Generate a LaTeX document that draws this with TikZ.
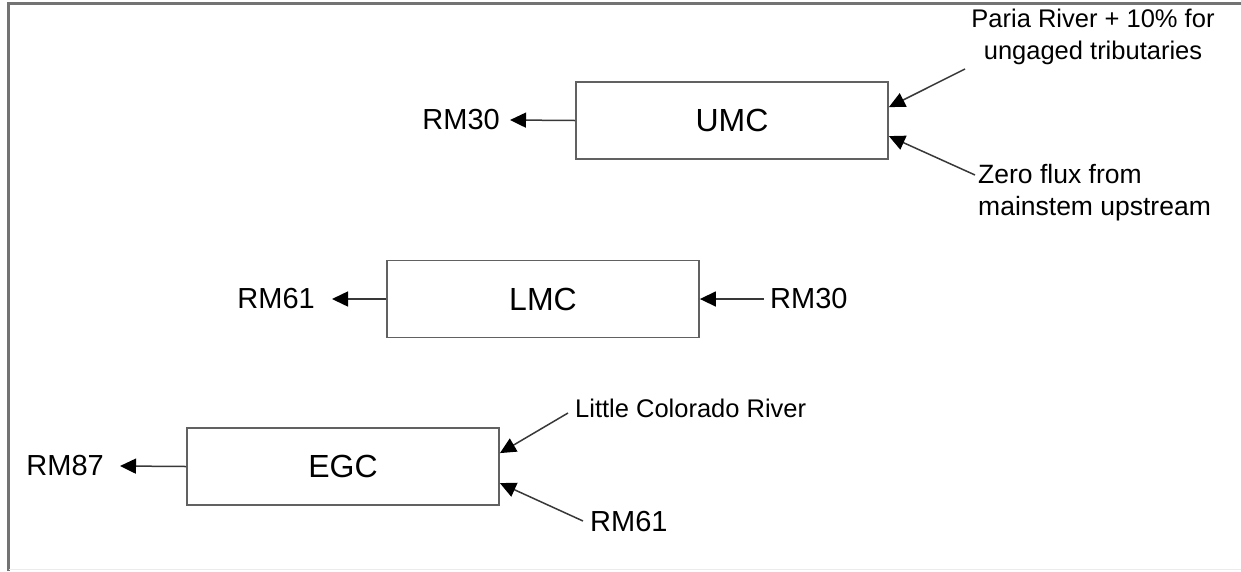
\documentclass[tikz,border=0pt]{standalone}
\usepackage{fontspec}
\setmainfont{Liberation Sans}
\usetikzlibrary{arrows.meta,calc}
\begin{document}
\begin{tikzpicture}[x=1pt,y=-1pt,
  box/.style={draw=black!62,line width=1.8pt,minimum width=312pt,minimum height=77pt,inner sep=0pt,font=\fontsize{32}{38}\selectfont},
  lbl/.style={font=\fontsize{25.5}{32}\selectfont,inner sep=0pt},
  rm/.style={font=\fontsize{29}{34}\selectfont,inner sep=0pt},
  arr/.style={draw=black!78,line width=1.5pt,-{Triangle[length=16pt,width=15pt,color=black]}},
]
\useasboundingbox (0,0) rectangle (1241,571);
\draw[black!55,line width=3pt] (1241,3) -- (8,3) -- (8,571);
\draw[black!8,line width=1.5pt] (9,569.5) -- (1241,569.5);

\node[box] (umc) at (732,120.5) {UMC};
\node[box] (lmc) at (543,299) {LMC};
\node[box] (egc) at (343,466.5) {EGC};

\node[rm,anchor=east] (rm30a) at (500,120) {RM30};
\node[lbl,align=center] (paria) at (1093,37) {Paria River + 10\% for\\ungaged tributaries};
\node[lbl,font=\fontsize{26.5}{32}\selectfont,align=left,anchor=west] (zero) at (978,193) {Zero flux from\\mainstem upstream};
\node[rm,anchor=east] (rm61a) at (315,299) {RM61};
\node[rm,anchor=west] (rm30b) at (770,299) {RM30};
\node[rm,anchor=east] (rm87) at (104,466) {RM87};
\node[lbl,anchor=west] (lcr) at (575,408) {Little Colorado River};
\node[rm,anchor=west] (rm61b) at (590,522) {RM61};

\coordinate (pa) at (965,69);
\coordinate (ze) at (975,175);
\coordinate (lc) at (568,413);
\coordinate (rb) at (583,521);

\draw[arr] (umc.west) -- ([xshift=10pt]rm30a.east);
\draw[arr] (pa) -- ($(umc.north east)+(0,26)$);
\draw[arr] (ze) -- ($(umc.north east)+(0,55)$);
\draw[arr] (lmc.west) -- ([xshift=17pt]rm61a.east);
\draw[arr] ([xshift=-6pt]rm30b.west) -- (lmc.east);
\draw[arr] (egc.west) -- ([xshift=16pt]rm87.east);
\draw[arr] (lc) -- ($(egc.north east)+(0,26)$);
\draw[arr] (rb) -- ($(egc.north east)+(0,56)$);
\end{tikzpicture}
\end{document}
